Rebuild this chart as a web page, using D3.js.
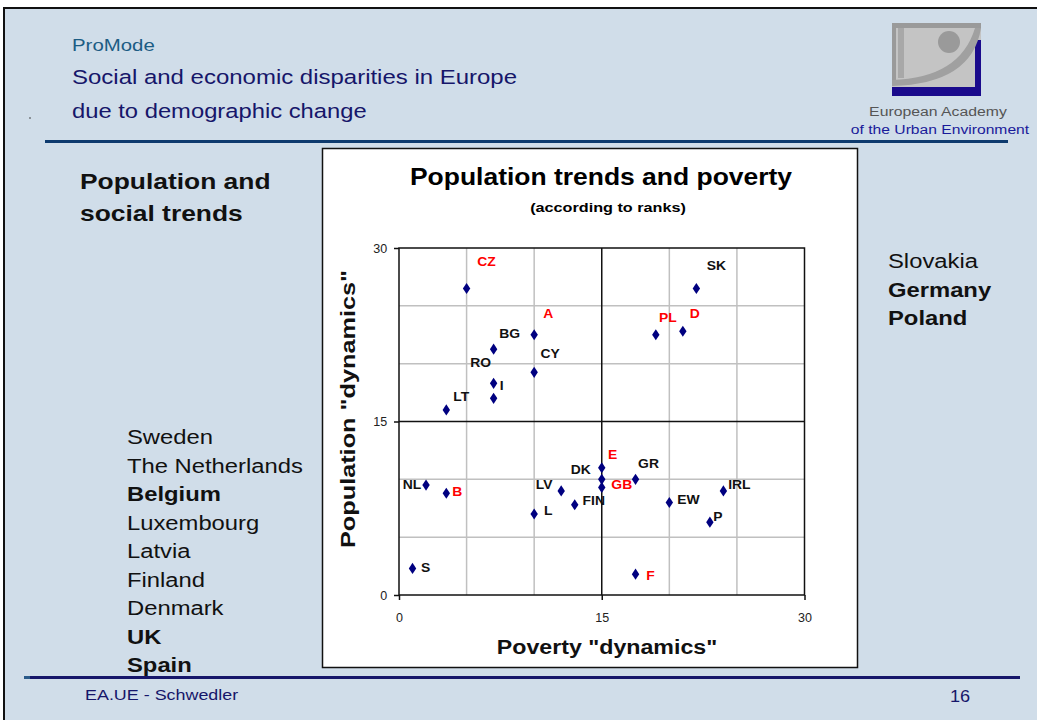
<!DOCTYPE html>
<html>
<head>
<meta charset="utf-8">
<script src="https://cdn.jsdelivr.net/npm/d3@7"></script>
<style>
  html, body { margin: 0; padding: 0; background: #fff; }
  svg { display: block; font-family: "Liberation Sans", Arial, sans-serif; }
</style>
</head>
<body>
<svg id="c" width="1037" height="720"></svg>
<script>
// ---- data ----
const countries  = ["CZ","A","BG","CY","RO","I","LT","SK","PL","D","NL","B","LV","L","FIN","DK","E","GB","GR","IRL","EW","P","F","S"];
const poverty    = [5, 10, 7, 10, 7, 7, 3.5, 22, 19, 21, 2, 3.5, 12, 10, 13, 15, 15, 15, 17.5, 24, 20, 23, 17.5, 1];
const population = [26.5, 22.5, 21.25, 19.25, 18.3, 17, 16, 26.5, 22.5, 22.8, 9.5, 8.8, 9, 7, 7.8, 10, 11, 9.3, 10, 9, 8, 6.3, 1.8, 2.3];
const redGroup   = ["CZ","A","PL","D","B","E","GB","F"];
const tickValues = [0, 15, 30];
const gridValues = [5, 10, 20, 25];
const leftList   = ["Sweden","The Netherlands","Belgium","Luxembourg","Latvia","Finland","Denmark","UK","Spain"];
const leftBold   = ["Belgium","UK","Spain"];
const rightList  = ["Slovakia","Germany","Poland"];
const rightBold  = ["Germany","Poland"];

// label placement (px offsets from the marker)
const labelOffset = {
  CZ:[20,-27], A:[14,-21], BG:[16,-16], CY:[16,-19], RO:[-13,-21], I:[8,-13], LT:[15,-13],
  SK:[20,-23], PL:[12,-17], D:[12,-18], NL:[-14,-1], B:[11,-2], LV:[-17,-6], L:[14,-4],
  FIN:[19,-4], DK:[-21,-10], E:[11,-13], GB:[20,-3], GR:[13,-16], IRL:[16,-6], EW:[19,-3],
  P:[8,-6], F:[15,1], S:[13,-1]
};

const svg = d3.select("#c");

// text helper: horizontally stretched text (the slide renders wide glyphs)
function txt(parent, x, y, s, o) {
  o = o || {};
  const t = parent.append("text")
    .attr("transform", `translate(${x},${y}) scale(${o.sx || 1},1)`)
    .attr("font-size", o.size || 12)
    .attr("font-weight", o.bold ? "bold" : "normal")
    .attr("fill", o.fill || "#111")
    .attr("text-anchor", o.anchor || "start")
    .text(s);
  return t;
}

// ---- slide background ----
svg.append("rect").attr("x",0).attr("y",0).attr("width",1037).attr("height",720).attr("fill","#ffffff");
svg.append("rect").attr("x",4).attr("y",8).attr("width",1040).attr("height",720)
   .attr("fill","#d0dde9").attr("stroke","#111").attr("stroke-width",2);

// header
txt(svg, 72, 51, "ProMode", {size:17, sx:1.2, fill:"#1c5c84"});
txt(svg, 72, 84, "Social and economic disparities in Europe", {size:20.5, sx:1.17, fill:"#16166a"});
txt(svg, 72, 118, "due to demographic change", {size:20.5, sx:1.16, fill:"#16166a"});
svg.append("circle").attr("cx",30).attr("cy",118).attr("r",0.8).attr("fill","#333");
svg.append("line").attr("x1",45).attr("x2",1008).attr("y1",141.5).attr("y2",141.5).attr("stroke","#0d3a6e").attr("stroke-width",3);

// logo
const lg = svg.append("g");
lg.append("rect").attr("x",892).attr("y",23).attr("width",89).attr("height",72).attr("fill","#c4c4c4");
lg.append("rect").attr("x",892).attr("y",87).attr("width",89).attr("height",9).attr("fill","#1a0a8c");
lg.append("rect").attr("x",975).attr("y",40).attr("width",6).attr("height",56).attr("fill","#1a0a8c");
lg.append("rect").attr("x",892).attr("y",23).attr("width",89).attr("height",5).attr("fill","#9a9a9a");
lg.append("rect").attr("x",892).attr("y",23).attr("width",4).attr("height",57).attr("fill","#9a9a9a");
lg.append("rect").attr("x",898).attr("y",28).attr("width",6).attr("height",50).attr("fill","#a8a8a8");
lg.append("path").attr("d","M892,80 Q960,78 975,28 L981,28 Q972,84 892,86 Z").attr("fill","#a0a0a0");
lg.append("circle").attr("cx",949).attr("cy",42).attr("r",11).attr("fill","#9a9a9a");
txt(svg, 938, 116, "European Academy", {size:13.5, sx:1.17, fill:"#555", anchor:"middle"});
txt(svg, 940, 134, "of the Urban Environment", {size:13.5, sx:1.16, fill:"#1a1a9a", anchor:"middle"});

// left / right texts
txt(svg, 80, 189, "Population and", {size:22, bold:true, sx:1.2});
txt(svg, 80, 221, "social trends", {size:22, bold:true, sx:1.2});
leftList.forEach((d,i) => txt(svg, 127, 444 + i*28.5, d, {size:20, sx:1.19, bold:leftBold.includes(d)}));
rightList.forEach((d,i) => txt(svg, 888, 268 + i*28.5, d, {size:20, sx:1.19, bold:rightBold.includes(d)}));

// footer
svg.append("line").attr("x1",25).attr("x2",1020).attr("y1",677.5).attr("y2",677.5).attr("stroke","#16166a").attr("stroke-width",3);
svg.append("rect").attr("x",24).attr("y",676).attr("width",6).attr("height",3).attr("fill","#2a5a8a");
txt(svg, 85, 700, "EA.UE - Schwedler", {size:14, sx:1.28, fill:"#16166a"});
txt(svg, 950, 702, "16", {size:16.5, sx:1.1, fill:"#16166a"});

// ---- chart box ----
svg.append("rect").attr("x",322.5).attr("y",148.5).attr("width",535).attr("height",519)
   .attr("fill","#fff").attr("stroke","#111").attr("stroke-width",1.5);
txt(svg, 601, 185, "Population trends and poverty", {size:24.5, bold:true, sx:1.08, fill:"#000", anchor:"middle"});
txt(svg, 608, 212, "(according to ranks)", {size:13.5, bold:true, sx:1.2, fill:"#000", anchor:"middle"});

const x = d3.scaleLinear().domain([0,30]).range([399,804.5]);
const y = d3.scaleLinear().domain([0,30]).range([595,248]);

const g = svg.append("g");
// grid
g.selectAll("line.gx").data(gridValues).join("line").attr("class","gx")
  .attr("x1",d=>x(d)).attr("x2",d=>x(d)).attr("y1",y(0)).attr("y2",y(30)).attr("stroke","#c0c0c0").attr("stroke-width",1.5);
g.selectAll("line.gy").data(gridValues).join("line").attr("class","gy")
  .attr("y1",d=>y(d)).attr("y2",d=>y(d)).attr("x1",x(0)).attr("x2",x(30)).attr("stroke","#c0c0c0").attr("stroke-width",1.5);
// quadrant lines
g.append("line").attr("x1",x(15)).attr("x2",x(15)).attr("y1",y(0)).attr("y2",y(30)).attr("stroke","#111").attr("stroke-width",1.5);
g.append("line").attr("y1",y(15)).attr("y2",y(15)).attr("x1",x(0)).attr("x2",x(30)).attr("stroke","#111").attr("stroke-width",1.5);
// plot border
g.append("rect").attr("x",x(0)).attr("y",y(30)).attr("width",x(30)-x(0)).attr("height",y(0)-y(30))
  .attr("fill","none").attr("stroke","#111").attr("stroke-width",1.5);

// axes
const xAxis = d3.axisBottom(x).tickValues(tickValues).tickSize(5).tickFormat(d3.format("d"));
const yAxis = d3.axisLeft(y).tickValues(tickValues).tickSize(5).tickFormat(d3.format("d"));
const gx = svg.append("g").attr("transform",`translate(0,${y(0)})`).call(xAxis);
const gy = svg.append("g").attr("transform",`translate(${x(0)},0)`).call(yAxis);
[gx,gy].forEach(a=>{
  a.select(".domain").remove();
  a.selectAll(".tick line").attr("stroke","#111").attr("stroke-width",1.5);
  a.selectAll(".tick text").attr("font-size",12.5).attr("fill","#222").attr("font-family","Liberation Sans, Arial, sans-serif");
});
gx.selectAll(".tick text").attr("dy","1.5em");
gy.selectAll(".tick text").attr("dx","-0.3em");

txt(svg, 607, 654, 'Poverty "dynamics"', {size:20, bold:true, sx:1.16, anchor:"middle"});
svg.append("text").attr("transform","translate(355,409) rotate(-90)").attr("text-anchor","middle")
  .attr("font-size",20).attr("font-weight","bold").attr("fill","#111")
  .attr("textLength",278).attr("lengthAdjust","spacingAndGlyphs").text('Population "dynamics"');

// points
const pts = countries.map((c,i)=>({c, px:poverty[i], py:population[i]}));
const sym = d3.symbol().type(d3.symbolDiamond).size(36);
svg.append("g").selectAll("path").data(pts).join("path")
  .attr("transform",d=>`translate(${x(d.px)},${y(d.py)}) scale(1.15,1)`).attr("d",sym).attr("fill","#000080");
const lab = svg.append("g");
pts.forEach(d => txt(lab, x(d.px)+labelOffset[d.c][0], y(d.py)+labelOffset[d.c][1]+4.5, d.c,
  {size:13, bold:true, sx:1.07, anchor:"middle", fill: redGroup.includes(d.c) ? "#ff0000" : "#111"}));
</script>
</body>
</html>
